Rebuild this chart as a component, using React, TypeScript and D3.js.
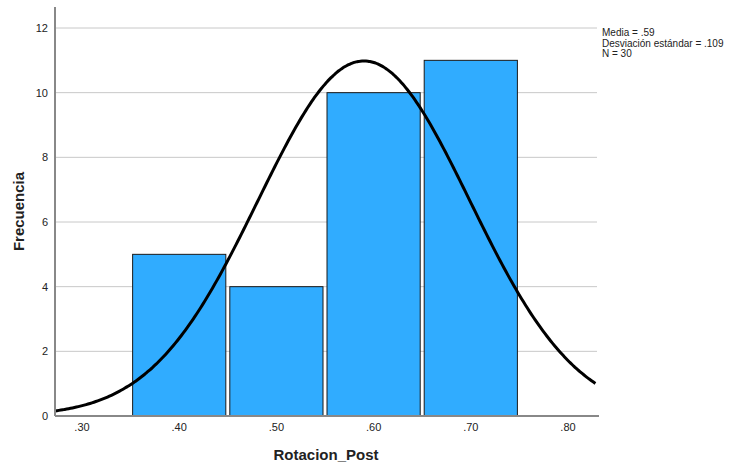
import React from "react";
import * as d3 from "d3";

// Histogram bins (lower edge) and their counts
const binStarts = [0.35, 0.45, 0.55, 0.65];
const binCounts = [5, 4, 10, 11];
const binWidth = 0.1;

const xTicks = [0.3, 0.4, 0.5, 0.6, 0.7, 0.8];
const yTicks = [0, 2, 4, 6, 8, 10, 12];

const mean = 0.59;
const sd = 0.109;
const n = 30;

const statLines = ["Media = .59", "Desviación estándar = .109", "N = 30"];

const W = 729;
const H = 463;
const left = 55;
const right = 599;
const top = 7;
const bottom = 416;

export default function App() {
  const x = d3.scaleLinear().domain([0.2722, 0.8319]).range([left, right]);
  const y = d3.scaleLinear().domain([0, 12]).range([bottom, 28]);

  const fmt = (v: number) => d3.format(".2f")(v).replace(/^0/, "");

  const normal = (v: number) =>
    (n * binWidth) / (sd * Math.sqrt(2 * Math.PI)) *
    Math.exp(-0.5 * ((v - mean) / sd) ** 2);
  const pts = d3.range(0.2722, 0.8301, 0.002).map((v) => [v, normal(v)] as [number, number]);
  const line = d3
    .line<[number, number]>()
    .x((d) => x(d[0]))
    .y((d) => y(d[1]))
    .curve(d3.curveBasis);

  const gap = 2;
  const font = "'Liberation Sans', Arial, sans-serif";

  return (
    <svg
      width={W}
      height={H}
      style={{ position: "absolute", left: 0, top: 0, background: "#fff" }}
      fontFamily={font}
    >
      {yTicks
        .filter((t) => t > 0)
        .map((t) => (
          <line key={t} x1={left} x2={597} y1={y(t)} y2={y(t)} stroke="#c8c8c8" strokeWidth={1} />
        ))}
      {binStarts.map((b, i) => (
        <rect
          key={b}
          x={x(b) + gap}
          y={y(binCounts[i])}
          width={x(b + binWidth) - x(b) - gap * 2}
          height={y(0) - y(binCounts[i])}
          fill="#30acff"
          stroke="#1a1a1a"
          strokeWidth={1}
        />
      ))}
      <path d={line(pts) || ""} fill="none" stroke="#000" strokeWidth={3} />
      <line x1={left} x2={left} y1={top} y2={bottom} stroke="#888" strokeWidth={2} />
      <line x1={left} x2={right} y1={bottom} y2={bottom} stroke="#888" strokeWidth={2} />
      {yTicks.map((t) => (
        <text key={t} x={48} y={y(t) + 4} fontSize={11} textAnchor="end" fill="#222">
          {t}
        </text>
      ))}
      {xTicks.map((t) => (
        <text key={t} x={x(t)} y={431} fontSize={11} textAnchor="middle" fill="#222">
          {fmt(t)}
        </text>
      ))}
      <text x={326} y={460} fontSize={15} fontWeight="bold" textAnchor="middle" fill="#222">
        Rotacion_Post
      </text>
      <text
        transform={`translate(24,${(top + bottom) / 2}) rotate(-90)`}
        fontSize={15}
        fontWeight="bold"
        textAnchor="middle"
        fill="#222"
      >
        Frecuencia
      </text>
      {statLines.map((s, i) => (
        <text key={s} x={602} y={36 + i * 10.5} fontSize={10} fill="#222">
          {s}
        </text>
      ))}
    </svg>
  );
}
